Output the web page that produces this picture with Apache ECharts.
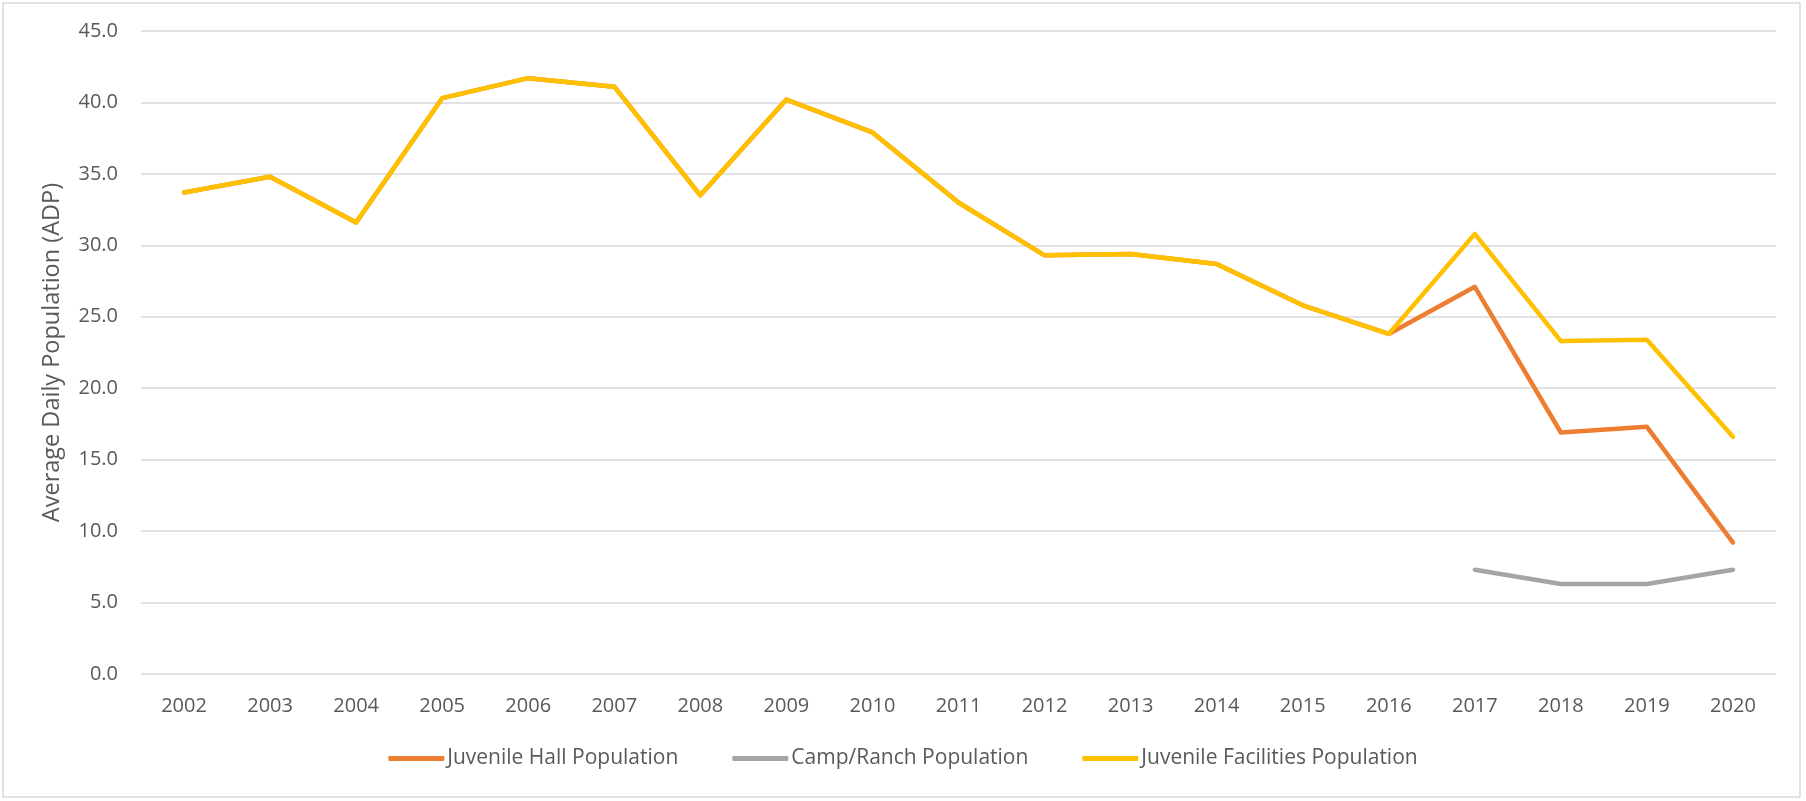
<!DOCTYPE html>
<html>
<head>
<meta charset="utf-8">
<script src="https://cdn.jsdelivr.net/npm/echarts@6/dist/echarts.min.js"></script>
<style>
html,body{margin:0;padding:0;background:#fff;}
#chart{width:1806px;height:801px;}
</style>
</head>
<body>
<div id="chart"></div>
<script>
const years = ['2002','2003','2004','2005','2006','2007','2008','2009','2010','2011','2012','2013','2014','2015','2016','2017','2018','2019','2020'];
const juvenileHall = [33.7,34.8,31.6,40.3,41.7,41.1,33.5,40.2,37.9,33.0,29.3,29.4,28.7,25.8,23.8,27.1,16.9,17.3,9.2];
const campRanch = [null,null,null,null,null,null,null,null,null,null,null,null,null,null,null,7.3,6.3,6.3,7.3];
const juvenileFacilities = [33.7,34.8,31.6,40.3,41.7,41.1,33.5,40.2,37.9,33.0,29.3,29.4,28.7,25.8,23.8,30.8,23.3,23.4,16.6];
const seriesNames = ['Juvenile Hall Population','Camp/Ranch Population','Juvenile Facilities Population'];
const seriesColors = ['#ED7D31','#A5A5A5','#FFC000'];
const yAxisTitle = 'Average Daily Population (ADP)';

const chart = echarts.init(document.getElementById('chart'), null, {renderer:'canvas'});
const font = '"Open Sans", "DejaVu Sans", sans-serif';
const mk = (name, data, color) => ({
  name, type:'line', data, symbol:'none', connectNulls:false,
  lineStyle:{color, width:4.5, cap:'round', join:'round'},
  itemStyle:{color}, emphasis:{disabled:true}
});
chart.setOption({
  animation:false,
  backgroundColor:'#fff',
  graphic:[{type:'rect', shape:{x:3,y:3,width:1797,height:794}, style:{fill:null, stroke:'#D9D9D9', lineWidth:1.5}, silent:true}],
  grid:{left:141, right:30, top:31, bottom:127, containLabel:false},
  legend:{
    bottom:27, left:'center',
    data:seriesNames,
    icon:'roundRect', itemWidth:56, itemHeight:5, itemGap:54,
    textStyle:{color:'#595959', fontSize:21, fontFamily:font, padding:[0,0,0,-2]}
  },
  xAxis:{
    type:'category', data:years, boundaryGap:true,
    axisLine:{show:false}, axisTick:{show:false},
    axisLabel:{color:'#595959', fontSize:20, fontFamily:font, margin:22}
  },
  yAxis:{
    type:'value', min:0, max:45, interval:5,
    name:yAxisTitle, nameLocation:'middle', nameGap:77, nameRotate:90,
    nameTextStyle:{color:'#595959', fontSize:23.5, fontFamily:font},
    axisLine:{show:false}, axisTick:{show:false},
    axisLabel:{color:'#595959', fontSize:20, fontFamily:font, margin:23, formatter:v=>v.toFixed(1)},
    splitLine:{lineStyle:{color:'#D9D9D9', width:1.5}}
  },
  series:[
    mk(seriesNames[0], juvenileHall, seriesColors[0]),
    mk(seriesNames[1], campRanch, seriesColors[1]),
    mk(seriesNames[2], juvenileFacilities, seriesColors[2])
  ]
});
</script>
</body>
</html>
